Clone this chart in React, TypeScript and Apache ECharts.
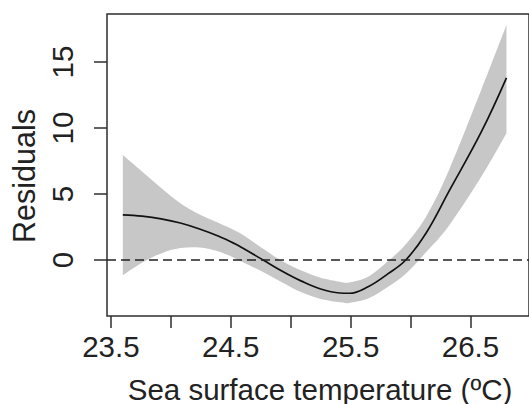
import React, { useEffect, useRef } from "react";
import * as echarts from "echarts";

// Sea surface temperature (ºC) grid of the smooth term
const sst = [23.6, 23.76, 23.92, 24.08, 24.24, 24.4, 24.53, 24.61, 24.77, 24.93, 25.09, 25.25, 25.41, 25.49, 25.65, 25.81, 25.96, 26.13, 26.32, 26.59, 26.8];
// Fitted smooth (residuals)
const fitted = [3.42, 3.32, 3.12, 2.8, 2.35, 1.8, 1.25, 0.85, 0.0, -0.85, -1.6, -2.2, -2.5, -2.52, -2.0, -1.05, 0.0, 2.05, 5.2, 9.7, 13.8];
// Confidence band
const lowerCI = [-1.15, -0.2, 0.5, 0.9, 0.95, 0.65, 0.15, -0.2, -0.9, -1.7, -2.45, -2.95, -3.2, -3.25, -2.9, -2.05, -1.05, 0.6, 2.6, 6.3, 9.6];
const upperCI = [7.95, 6.7, 5.45, 4.3, 3.45, 2.8, 2.25, 1.85, 0.85, -0.1, -0.8, -1.35, -1.65, -1.7, -1.25, -0.1, 1.2, 3.3, 6.8, 12.9, 17.8];

const xTickValues = [23.5, 24, 24.5, 25, 25.5, 26, 26.5];
const xLabelValues = [23.5, 24.5, 25.5, 26.5];
const yTickValues = [0, 5, 10, 15];

const xTitle = "Sea surface temperature (ºC)";
const yTitle = "Residuals";

// Catmull-Rom spline through pixel points, as SVG cubic segments (rendering only)
function splineSegments(p: number[][]): string {
  let d = "";
  for (let i = 0; i < p.length - 1; i++) {
    const p0 = p[Math.max(0, i - 1)];
    const p1 = p[i];
    const p2 = p[i + 1];
    const p3 = p[Math.min(p.length - 1, i + 2)];
    const c1x = p1[0] + (p2[0] - p0[0]) / 6;
    const c1y = p1[1] + (p2[1] - p0[1]) / 6;
    const c2x = p2[0] - (p3[0] - p1[0]) / 6;
    const c2y = p2[1] - (p3[1] - p1[1]) / 6;
    d += ` C${c1x.toFixed(2)},${c1y.toFixed(2)} ${c2x.toFixed(2)},${c2y.toFixed(2)} ${p2[0].toFixed(2)},${p2[1].toFixed(2)}`;
  }
  return d;
}

export default function App() {
  const ref = useRef<HTMLDivElement>(null);
  useEffect(() => {
    const chart = echarts.init(ref.current!, null, { renderer: "svg" });
    const font = "'Liberation Sans', Arial, Helvetica, sans-serif";
    const ink = "#222";
    const frame = "#2e2e2e";
    chart.setOption({
      animation: false,
      grid: {
        left: 107,
        top: 14,
        width: 440,
        height: 302,
        show: true,
        borderColor: frame,
        borderWidth: 1.5,
        backgroundColor: "transparent",
      },
      xAxis: {
        type: "value",
        min: 23.468,
        max: 26.988,
        axisLine: { show: false, onZero: false },
        splitLine: { show: false },
        axisTick: {
          show: true,
          length: 12,
          customValues: xTickValues,
          lineStyle: { color: frame, width: 1.5 },
        },
        axisLabel: {
          customValues: xLabelValues,
          fontSize: 29.5,
          color: ink,
          fontFamily: font,
          margin: 15,
          formatter: (v: number) => v.toFixed(1),
        },
      },
      yAxis: {
        type: "value",
        min: -4.242,
        max: 18.636,
        axisLine: { show: false, onZero: false },
        splitLine: { show: false },
        axisTick: {
          show: true,
          length: 13,
          customValues: yTickValues,
          lineStyle: { color: frame, width: 1.5 },
        },
        axisLabel: {
          customValues: yTickValues,
          fontSize: 29.5,
          color: ink,
          fontFamily: font,
          margin: 30,
          rotate: 90,
          formatter: (v: number) => String(Math.round(v)),
        },
      },
      series: [
        {
          type: "custom",
          name: "band",
          data: sst.map((x, i) => [x, lowerCI[i], upperCI[i]]),
          encode: { x: 0, y: [1, 2] },
          silent: true,
          z: 1,
          renderItem: (params: any, api: any) => {
            if (params.dataIndex !== 0) return null;
            const up = sst.map((x, i) => api.coord([x, upperCI[i]]));
            const lo = sst.map((x, i) => api.coord([x, lowerCI[i]])).reverse();
            const d =
              `M${up[0][0].toFixed(2)},${up[0][1].toFixed(2)}` +
              splineSegments(up) +
              ` L${lo[0][0].toFixed(2)},${lo[0][1].toFixed(2)}` +
              splineSegments(lo) +
              " Z";
            return {
              type: "path",
              shape: { pathData: d },
              style: { fill: "#c7c7c7", stroke: "none" },
            };
          },
        },
        {
          type: "line",
          name: "fit",
          data: sst.map((x, i) => [x, fitted[i]]),
          symbol: "none",
          smooth: 0.4,
          lineStyle: { color: "#111", width: 1.7 },
          silent: true,
          z: 3,
          markLine: {
            silent: true,
            symbol: ["none", "none"],
            label: { show: false },
            lineStyle: { color: "#222", width: 1.5, type: [9, 5] },
            data: [{ yAxis: 0 }],
          },
        },
      ],
      graphic: [
        {
          type: "text",
          x: 320,
          y: 389,
          style: {
            text: xTitle,
            fontSize: 29.5,
            fontFamily: font,
            fill: ink,
            align: "center",
            verticalAlign: "middle",
          },
        },
        {
          type: "text",
          x: 24,
          y: 176,
          rotation: Math.PI / 2,
          style: {
            text: yTitle,
            fontSize: 30.5,
            fontFamily: font,
            fill: ink,
            align: "center",
            verticalAlign: "middle",
          },
        },
      ],
    });
    return () => chart.dispose();
  }, []);
  return (
    <div
      ref={ref}
      style={{ position: "fixed", left: 0, top: 0, width: 529, height: 404, background: "#fff" }}
    />
  );
}
